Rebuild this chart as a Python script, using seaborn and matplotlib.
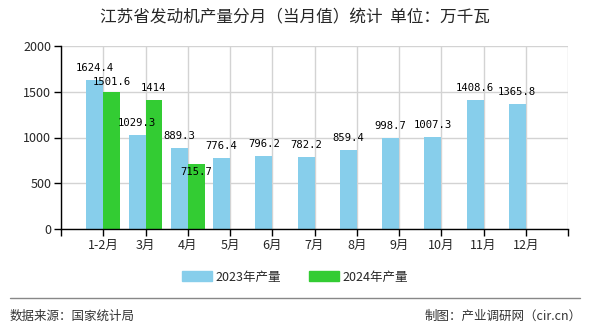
import numpy as np
import pandas as pd
import matplotlib
matplotlib.use("Agg")
import matplotlib.pyplot as plt
import seaborn as sns
from matplotlib.lines import Line2D

months = ["1-2月", "3月", "4月", "5月", "6月", "7月", "8月", "9月", "10月", "11月", "12月"]
vals_2023 = [1624.4, 1029.3, 889.3, 776.4, 796.2, 782.2, 859.4, 998.7, 1007.3, 1408.6, 1365.8]
vals_2024 = [1501.6, 1414, 715.7, np.nan, np.nan, np.nan, np.nan, np.nan, np.nan, np.nan, np.nan]
series = ["2023年产量", "2024年产量"]
title = "江苏省发动机产量分月（当月值）统计  单位：万千瓦"
yticks = [0, 500, 1000, 1500, 2000]

df = pd.DataFrame({
    "month": months * 2,
    "value": vals_2023 + vals_2024,
    "series": [series[0]] * len(months) + [series[1]] * len(months),
})

sns.set_theme(style="white")
plt.rcParams['font.family'] = ['Noto Sans CJK SC', 'DejaVu Sans']

fig = plt.figure(figsize=(5.9, 3.3), dpi=100)
ax = fig.add_axes([61/590, 1-229/330, (568-61)/590, (229-46)/330])

palette = {series[0]: "#87CEEB", series[1]: "#33CC33"}
sns.barplot(data=df, x="month", y="value", hue="series", order=months,
            hue_order=series, palette=palette, width=0.8, ax=ax,
            saturation=1, legend=False, linewidth=0, edgecolor="none")

ax.set_xlim(-1, 11)
ax.set_ylim(0, 2000)
ax.set_yticks(yticks)
ax.set_yticklabels([str(v) for v in yticks], fontsize=9)
ax.set_xticks(range(-1, 12))
ax.set_xticklabels([""] + months + [""], fontsize=9)
ax.set_xlabel("")
ax.set_ylabel("")
ax.grid(True, color="#d3d3d3", linewidth=1)
ax.set_axisbelow(True)
for s in ["top", "right"]:
    ax.spines[s].set_visible(False)
for s in ["left", "bottom"]:
    ax.spines[s].set_color("black")
    ax.spines[s].set_linewidth(1)
ax.tick_params(axis="both", direction="out", length=5, width=1, color="black",
               left=True, bottom=True, pad=2)

# value labels
special = {(1, 0): 10, (1, 2): -8}
for si, cont in enumerate(ax.containers):
    for bi, p in enumerate(cont.patches):
        h = p.get_height()
        if h is None or np.isnan(h) or h == 0:
            continue
        off = special.get((si, bi), 12)
        label = f"{h:g}"
        ax.annotate(label, (p.get_x() + p.get_width() / 2, h),
                    xytext=(0, off), textcoords="offset pixels",
                    ha="center", va="center", fontsize=7.6,
                    family=["DejaVu Sans Mono"], color="black")

fig.text(0.5, 1 - 18/330, title, ha="center", va="center", fontsize=12)

handles = [plt.Rectangle((0, 0), 1, 1, color=palette[s]) for s in series]
fig.legend(handles, series, loc="center", bbox_to_anchor=(0.5, 1 - 277/330),
           ncol=2, frameon=False, fontsize=9, handlelength=2.4, handleheight=0.9,
           columnspacing=2.2, handletextpad=0.3)

fig.add_artist(Line2D([10/590, 580/590], [1 - 298/330] * 2, color="#888888", linewidth=1))
fig.text(10/590, 1 - 316/330, "数据来源：国家统计局", ha="left", va="center", fontsize=9, color="#333333")
fig.text(582/590, 1 - 316/330, "制图：产业调研网（cir.cn）", ha="right", va="center", fontsize=9, color="#333333")

fig.savefig("out.png", dpi=100)
